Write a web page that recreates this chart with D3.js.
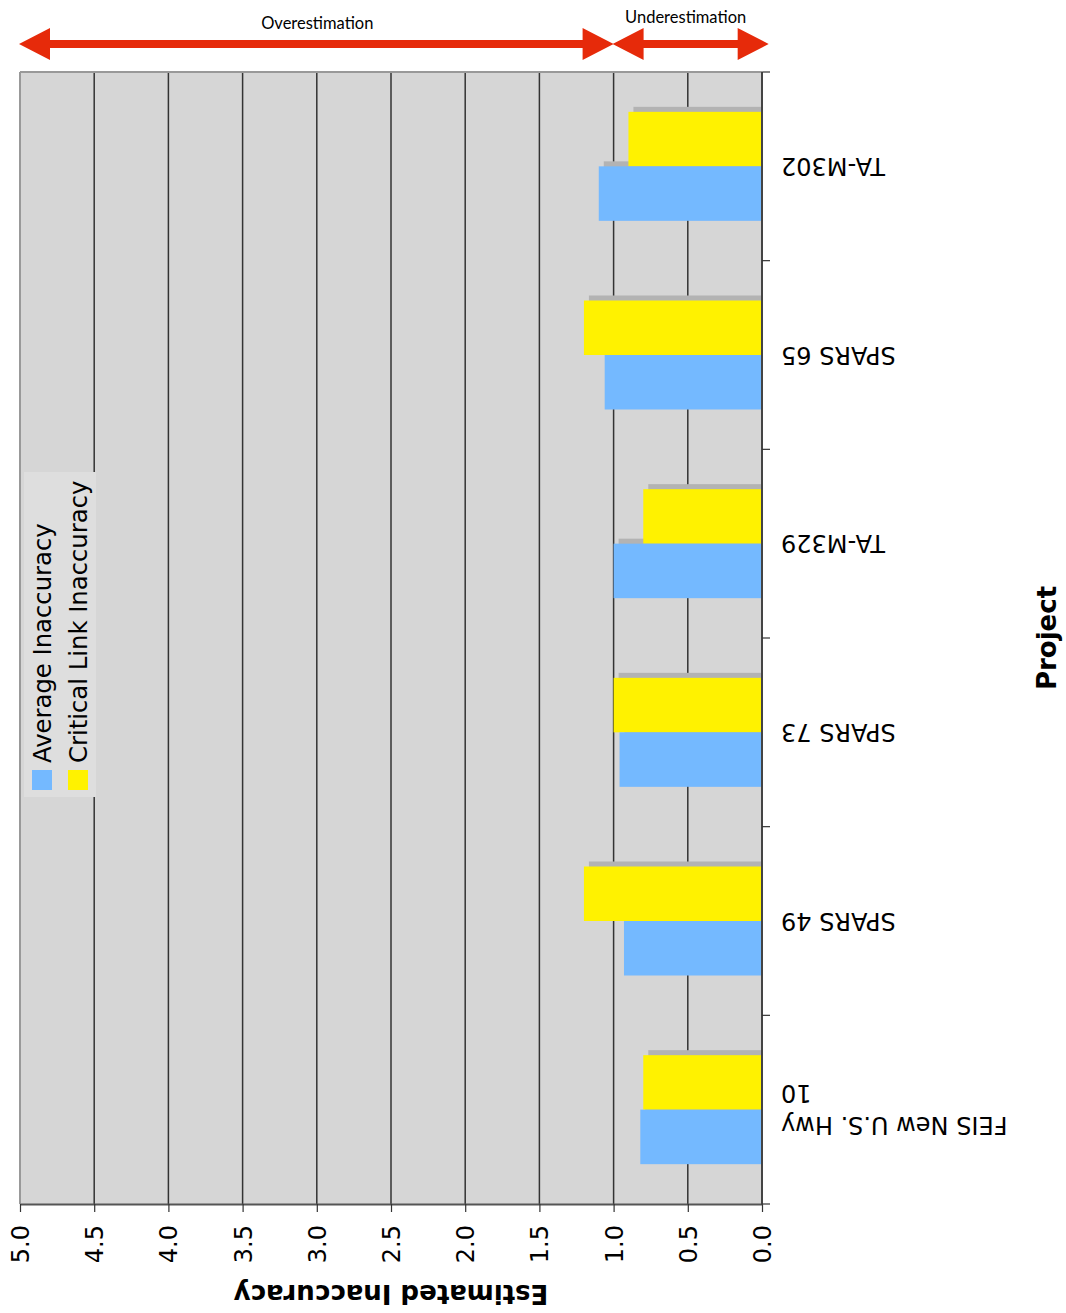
<!DOCTYPE html>
<html>
<head>
<meta charset="utf-8">
<script src="https://cdn.jsdelivr.net/npm/d3@7"></script>
<style>
  html, body { margin: 0; padding: 0; background: #ffffff; }
  svg { display: block; }
</style>
</head>
<body>
<svg id="chart" width="1066" height="1313"></svg>
<script>
// Projects, listed from the top of the plot downward
const projects = ["TA-M302", "SPARS 65", "TA-M329", "SPARS 73", "SPARS 49", "FEIS New U.S. Hwy 10"];
// Wrapped label lines for each project
const projectLines = [["TA-M302"], ["SPARS 65"], ["TA-M329"], ["SPARS 73"], ["SPARS 49"], ["FEIS New U.S. Hwy", "10"]];
// Series values (estimated inaccuracy ratio)
const criticalLink = [0.90, 1.20, 0.80, 1.00, 1.20, 0.80];
const averageInacc = [1.10, 1.06, 1.00, 0.96, 0.93, 0.82];
const seriesNames = ["Average Inaccuracy", "Critical Link Inaccuracy"];
const tickValues = [0, 0.5, 1, 1.5, 2, 2.5, 3, 3.5, 4, 4.5, 5];
// Range annotations drawn above the plot
const rangeLabels = ["Overestimation", "Underestimation"];
const rangeSpans = [[5, 1], [1, -0.045]];

const colors = { avg: "#74b9ff", crit: "#fff200", shadow: "#b3b3b3", plot: "#d6d6d6", red: "#e62a0a" };
const FONT = "'DejaVu Sans', Verdana, sans-serif";

const svg = d3.select("#chart");
const plotL = 20, plotR = 762, plotT = 72, plotB = 1204;

const x = d3.scaleLinear().domain([0, 5]).range([plotR, plotL]);
const y = d3.scaleBand().domain(projects).range([plotT, plotB]).padding(0);
const inner = d3.scaleBand().domain(["crit", "avg"]).range([0, y.bandwidth()])
  .paddingInner(0).paddingOuter(0.731);

// plot background
svg.append("rect").attr("x", plotL).attr("y", plotT)
  .attr("width", plotR - plotL).attr("height", plotB - plotT)
  .attr("fill", colors.plot);

// vertical grid lines
svg.append("g").selectAll("line").data(tickValues.filter(v => v > 0 && v < 5)).join("line")
  .attr("x1", d => x(d)).attr("x2", d => x(d))
  .attr("y1", plotT).attr("y2", plotB)
  .attr("stroke", "#333").attr("stroke-width", 1.5);

// plot frame (top and left)
svg.append("line").attr("x1", plotL).attr("x2", plotR).attr("y1", plotT).attr("y2", plotT)
  .attr("stroke", "#999").attr("stroke-width", 2);
svg.append("line").attr("x1", plotL).attr("x2", plotL).attr("y1", plotT).attr("y2", plotB)
  .attr("stroke", "#999").attr("stroke-width", 2);

// bar data
const rows = projects.map((p, i) => ({ p, crit: criticalLink[i], avg: averageInacc[i] }));
const bars = [];
rows.forEach(r => {
  bars.push({ p: r.p, key: "crit", v: r.crit });
  bars.push({ p: r.p, key: "avg", v: r.avg });
});

// drop shadows behind the bars
svg.append("g").selectAll("rect").data(bars).join("rect")
  .attr("x", d => x(d.v) + 5)
  .attr("y", d => y(d.p) + inner(d.key) - 5)
  .attr("width", d => x(0) - x(d.v) - 5)
  .attr("height", inner.bandwidth())
  .attr("fill", colors.shadow);

// bars
svg.append("g").selectAll("rect").data(bars).join("rect")
  .attr("x", d => x(d.v))
  .attr("y", d => y(d.p) + inner(d.key))
  .attr("width", d => x(0) - x(d.v))
  .attr("height", inner.bandwidth())
  .attr("fill", d => d.key === "crit" ? colors.crit : colors.avg);

// value axis along the bottom
const xAxis = svg.append("g").attr("transform", `translate(0,${plotB})`)
  .call(d3.axisBottom(x).tickValues(tickValues).tickFormat(d3.format(".1f")).tickSize(8).tickSizeOuter(0));
xAxis.select(".domain").attr("stroke", "#555").attr("stroke-width", 2);
xAxis.selectAll(".tick line").attr("stroke", "#333").attr("stroke-width", 1.2);
xAxis.selectAll(".tick text")
  .attr("font-family", FONT)
  .attr("font-size", 24).attr("fill", "#000")
  .attr("text-anchor", "end")
  .attr("x", 0).attr("y", 0).attr("dy", "0.35em")
  .attr("transform", "translate(0,21) rotate(-90)");

// project axis along the right edge
svg.append("line").attr("x1", plotR).attr("x2", plotR).attr("y1", plotT).attr("y2", plotB + 1)
  .attr("stroke", "#444").attr("stroke-width", 2);
const bounds = projects.map(p => y(p)).concat([y(projects[projects.length - 1]) + y.bandwidth()]);
svg.append("g").selectAll("line").data(bounds).join("line")
  .attr("x1", plotR).attr("x2", plotR + 8)
  .attr("y1", d => d).attr("y2", d => d)
  .attr("stroke", "#333").attr("stroke-width", 1.2);

// project labels (upside down)
const lh = 32;
const catLabels = svg.append("g").selectAll("text").data(projects).join("text")
  .attr("transform", d => `translate(${plotR + 19},${y(d) + y.bandwidth() / 2}) rotate(180)`)
  .attr("font-family", FONT)
  .attr("font-size", 24).attr("fill", "#000")
  .attr("text-anchor", "end");
catLabels.each(function (d, i) {
  const lines = projectLines[i];
  const t = d3.select(this);
  lines.forEach((ln, k) => {
    t.append("tspan").attr("x", 0)
      .attr("y", (k - (lines.length - 1) / 2) * lh)
      .attr("dy", "0.35em").text(ln);
  });
});

// axis titles
svg.append("text")
  .attr("transform", `translate(${(plotL + plotR) / 2},1294) rotate(180)`)
  .attr("text-anchor", "middle").attr("dy", "0.35em")
  .attr("font-family", FONT)
  .attr("font-weight", "bold").attr("font-size", 26)
  .text("Estimated Inaccuracy");
svg.append("text")
  .attr("transform", `translate(1047,${(plotT + plotB) / 2}) rotate(-90)`)
  .attr("text-anchor", "middle").attr("dy", "0.35em")
  .attr("font-family", FONT)
  .attr("font-weight", "bold").attr("font-size", 26)
  .text("Project");

// legend
const legend = svg.append("g");
legend.append("rect").attr("x", 24).attr("y", 472).attr("width", 72).attr("height", 325)
  .attr("fill", "#dedede");
const legendColors = [colors.avg, colors.crit];
seriesNames.forEach((name, i) => {
  const cx = 42 + i * 36;
  legend.append("rect").attr("x", cx - 10).attr("y", 770).attr("width", 20).attr("height", 20)
    .attr("fill", legendColors[i]);
  legend.append("text")
    .attr("transform", `translate(${cx},763) rotate(-90)`)
    .attr("dy", "0.35em")
    .attr("font-family", FONT)
    .attr("font-size", 24.3).attr("fill", "#000")
    .text(name);
});

// double-headed range arrows
function arrowPath(x1, x2, cy) {
  const hl = 31, hh = 16, sh = 4;
  return `M${x1},${cy} L${x1 + hl},${cy - hh} L${x1 + hl},${cy - sh} L${x2 - hl},${cy - sh} ` +
    `L${x2 - hl},${cy - hh} L${x2},${cy} L${x2 - hl},${cy + hh} L${x2 - hl},${cy + sh} ` +
    `L${x1 + hl},${cy + sh} L${x1 + hl},${cy + hh} Z`;
}
const arrowY = 44;
const labelY = [29, 23];
const labelShift = [1, -5];
rangeSpans.forEach((span, i) => {
  const a = x(span[0]) - 1, b = x(span[1]);
  svg.append("path").attr("d", arrowPath(a, b, arrowY)).attr("fill", colors.red);
  svg.append("text").attr("x", (a + b) / 2 + labelShift[i]).attr("y", labelY[i])
    .attr("text-anchor", "middle")
    .attr("font-family", "Lato, 'Open Sans', sans-serif")
    .attr("font-size", 16.5).attr("fill", "#000")
    .text(rangeLabels[i]);
});
</script>
</body>
</html>
